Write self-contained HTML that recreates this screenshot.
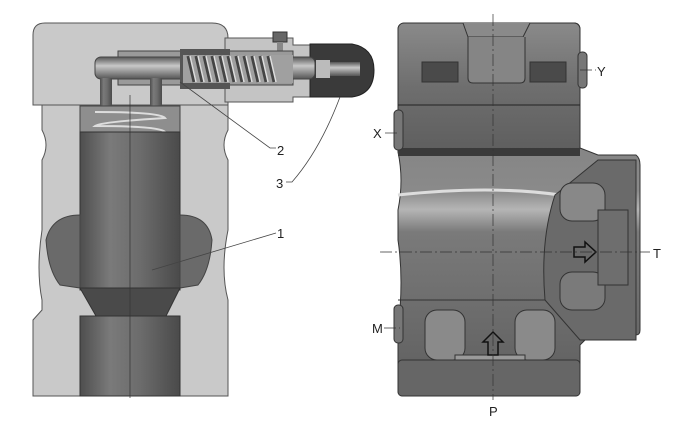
<!DOCTYPE html>
<html><head><meta charset="utf-8"><style>
html,body{margin:0;padding:0;background:#fff;}
svg{display:block;}
text{font-family:"Liberation Sans",sans-serif;font-size:13px;fill:#222;}
</style></head><body>
<svg width="700" height="431" viewBox="0 0 700 431" xmlns="http://www.w3.org/2000/svg">
<defs>
<linearGradient id="cyl" x1="0" x2="1" y1="0" y2="0">
<stop offset="0" stop-color="#4e4e4e"/><stop offset="0.3" stop-color="#7a7a7a"/><stop offset="0.6" stop-color="#6c6c6c"/><stop offset="1" stop-color="#4a4a4a"/></linearGradient>
<linearGradient id="rod" x1="0" x2="0" y1="0" y2="1">
<stop offset="0" stop-color="#555"/><stop offset="0.4" stop-color="#c8c8c8"/><stop offset="1" stop-color="#555"/></linearGradient>
<linearGradient id="body" x1="0" x2="0" y1="0" y2="1">
<stop offset="0" stop-color="#777"/><stop offset="0.45" stop-color="#8a8a8a"/><stop offset="0.5" stop-color="#b5b5b5"/><stop offset="0.56" stop-color="#7a7a7a"/><stop offset="0.75" stop-color="#6e6e6e"/><stop offset="1" stop-color="#5e5e5e"/></linearGradient>
<linearGradient id="bodyv" x1="0" x2="0" y1="0" y2="1">
<stop offset="0" stop-color="#8a8a8a"/><stop offset="0.5" stop-color="#6e6e6e"/><stop offset="1" stop-color="#5e5e5e"/></linearGradient>
</defs>

<!-- LEFT SECTION VIEW -->
<path d="M45,23 H212 Q228,23 228,38 V105 H228 V130 Q220,145 228,160 V230 Q220,270 228,300 V396 H33 V320 L42,310 V300 Q36,270 42,230 V160 Q50,145 42,130 V105 H33 V35 Q33,23 45,23 Z" fill="#c9c9c9" stroke="#555" stroke-width="1"/>
<line x1="33" y1="105" x2="228" y2="105" stroke="#555"/>
<path d="M225,38 H293 V45 H310 V97 H293 V102 H225 Z" fill="#c4c4c4" stroke="#555"/>
<path d="M310,44 H352 Q374,48 374,70 Q374,94 352,97 H310 Z" fill="#3a3a3a" stroke="#222"/>
<rect x="316" y="60" width="14" height="18" fill="#bbb"/>
<rect x="330" y="62" width="30" height="14" fill="url(#rod)"/>
<rect x="273" y="32" width="14" height="10" fill="#666" stroke="#333"/>
<rect x="277" y="42" width="6" height="18" fill="#888"/>
<rect x="118" y="51" width="175" height="34" fill="#9a9a9a" stroke="#444"/>
<rect x="95" y="57" width="220" height="22" fill="url(#rod)" stroke="#444" rx="6"/>
<rect x="180" y="49" width="50" height="40" fill="#555"/>
<rect x="183" y="55" width="110" height="28" fill="#a0a0a0"/>
<g stroke="#444" stroke-width="3" fill="none">
<path d="M188,56 L194,82 M196,56 L202,82 M204,56 L210,82 M212,56 L218,82 M220,56 L226,82 M228,56 L234,82 M236,56 L242,82 M244,56 L250,82 M252,56 L258,82 M260,56 L266,82 M268,56 L274,82"/>
</g>
<g stroke="#ddd" stroke-width="1.5" fill="none">
<path d="M190,56 L196,82 M198,56 L204,82 M206,56 L212,82 M214,56 L220,82 M222,56 L228,82 M230,56 L236,82 M238,56 L244,82 M246,56 L252,82 M254,56 L260,82 M262,56 L268,82 M270,56 L276,82"/>
</g>
<rect x="100" y="78" width="12" height="28" fill="url(#cyl)"/>
<rect x="150" y="78" width="12" height="28" fill="url(#cyl)"/>
<rect x="80" y="106" width="100" height="26" fill="#8e8e8e" stroke="#444"/>
<path d="M95,112 Q160,112 165,118 Q100,122 95,126 Q160,126 165,132" stroke="#ddd" stroke-width="2" fill="none"/>
<rect x="80" y="132" width="100" height="158" fill="url(#cyl)" stroke="#333"/>
<path d="M80,215 Q52,215 46,240 Q48,270 60,285 L80,288 Z" fill="#6a6a6a" stroke="#444"/>
<path d="M180,215 Q208,215 212,240 Q210,270 198,285 L180,288 Z" fill="#6a6a6a" stroke="#444"/>
<path d="M80,288 H180 L166,316 H96 Z" fill="#4a4a4a" stroke="#333"/>
<rect x="80" y="316" width="100" height="80" fill="url(#cyl)" stroke="#333"/>
<line x1="130" y1="95" x2="130" y2="398" stroke="#333" stroke-width="0.7"/>
<g stroke="#444" stroke-width="0.8" fill="none">
<path d="M180,82 L270,148 H276"/>
<path d="M340,97 Q320,150 292,182 H286"/>
<path d="M152,270 L276,233"/>
</g>
<text x="277" y="155">2</text>
<text x="276" y="188">3</text>
<text x="277" y="238">1</text>

<!-- RIGHT VIEW -->
<path d="M406,23 H574 Q580,23 580,30 V148 L598,155 H636 Q640,158 640,165 V330 Q640,335 636,335 H590 L580,345 V390 Q580,396 574,396 H404 Q398,396 398,390 V330 Q404,280 398,240 V210 Q404,180 398,152 V30 Q398,23 406,23 Z" fill="url(#body)" stroke="#333"/>
<rect x="398" y="23" width="182" height="130" fill="url(#bodyv)" stroke="#333" rx="6"/>
<path d="M463,23 L468,37 H523 L530,23" fill="#8a8a8a" stroke="#333"/>
<path d="M468,37 V78 Q468,83 473,83 H520 Q525,83 525,78 V37" fill="#858585" stroke="#333"/>
<rect x="422" y="62" width="36" height="20" fill="#4a4a4a" stroke="#333"/>
<rect x="530" y="62" width="36" height="20" fill="#4a4a4a" stroke="#333"/>
<line x1="398" y1="105" x2="580" y2="105" stroke="#222"/>
<rect x="398" y="148" width="182" height="8" fill="#3a3a3a"/>
<path d="M398,195 Q490,185 560,195" stroke="#ddd" stroke-width="3" fill="none"/>
<path d="M398,300 H580" stroke="#333"/>
<path d="M555,195 Q540,240 545,300 L580,340 H636 V160 H598 Z" fill="#6a6a6a" stroke="#333"/>
<rect x="560" y="183" width="45" height="38" rx="12" fill="#888" stroke="#333"/>
<rect x="560" y="272" width="45" height="38" rx="12" fill="#7a7a7a" stroke="#333"/>
<rect x="598" y="210" width="30" height="75" fill="#6e6e6e" stroke="#333"/>
<path d="M574,247 H585 V242 L596,252 L585,262 V257 H574 Z" fill="none" stroke="#111" stroke-width="1.5"/>
<rect x="425" y="310" width="40" height="50" rx="12" fill="#8a8a8a" stroke="#333"/>
<rect x="515" y="310" width="40" height="50" rx="12" fill="#8a8a8a" stroke="#333"/>
<rect x="455" y="355" width="70" height="10" fill="#9a9a9a" stroke="#333"/>
<path d="M488,355 V342 H483 L493,332 L503,342 H498 V355 Z" fill="none" stroke="#111" stroke-width="1.5"/>
<rect x="398" y="360" width="182" height="36" fill="#666" stroke="#333" rx="4"/>
<rect x="578" y="52" width="9" height="36" rx="4" fill="#777" stroke="#333"/>
<rect x="394" y="110" width="9" height="40" rx="4" fill="#777" stroke="#333"/>
<rect x="394" y="305" width="9" height="38" rx="4" fill="#777" stroke="#333"/>
<g stroke="#333" stroke-width="0.7" stroke-dasharray="12,3,2,3">
<line x1="493" y1="14" x2="493" y2="400"/>
<line x1="380" y1="252" x2="650" y2="252"/>
<line x1="385" y1="133" x2="400" y2="133"/>
<line x1="384" y1="328" x2="400" y2="328"/>
<line x1="580" y1="70" x2="596" y2="70"/>
</g>
<text x="373" y="138">X</text>
<text x="597" y="76">Y</text>
<text x="653" y="258">T</text>
<text x="372" y="333">M</text>
<text x="489" y="416">P</text>
</svg>
</body></html>
